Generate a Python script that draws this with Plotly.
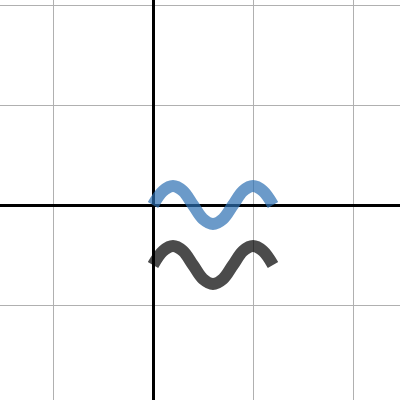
import plotly.graph_objects as go

# points (graph units, 1 grid square = 1)
x_vals = [0, 0.1, 0.2, 0.3, 0.4, 0.5, 0.6, 0.7, 0.8, 0.9, 1.0, 1.1, 1.2]
blue_y = [0, 0.14, 0.19, 0.14, 0, -0.14, -0.19, -0.14, 0, 0.14, 0.19, 0.14, 0]
black_y = [-0.6, -0.46, -0.41, -0.46, -0.6, -0.74, -0.79, -0.74, -0.6, -0.46, -0.41, -0.46, -0.6]

fig = go.Figure()

fig.add_trace(go.Scatter(x=x_vals, y=blue_y, mode='lines',
                         line=dict(color='#2d70b3', width=12, shape='spline'),
                         opacity=0.7, hoverinfo='skip'))
fig.add_trace(go.Scatter(x=x_vals, y=black_y, mode='lines',
                         line=dict(color='#000000', width=12, shape='spline'),
                         opacity=0.7, hoverinfo='skip'))

axis_style = dict(dtick=1, showgrid=True, gridcolor='#b0b0b0', gridwidth=1,
                  zeroline=True, zerolinecolor='#000000', zerolinewidth=3,
                  showticklabels=False, ticks='', showline=False, fixedrange=True)

fig.update_layout(
    width=400, height=400,
    margin=dict(l=0, r=0, t=0, b=0),
    paper_bgcolor='white', plot_bgcolor='white',
    showlegend=False,
    xaxis=dict(range=[-1.53, 2.47], **axis_style),
    yaxis=dict(range=[-1.95, 2.05], **axis_style),
)

# drop the page's default body margin so the plot fills the window
fig.write_html("out.html", config={'displayModeBar': False},
               post_script="document.body.style.margin='0';")
